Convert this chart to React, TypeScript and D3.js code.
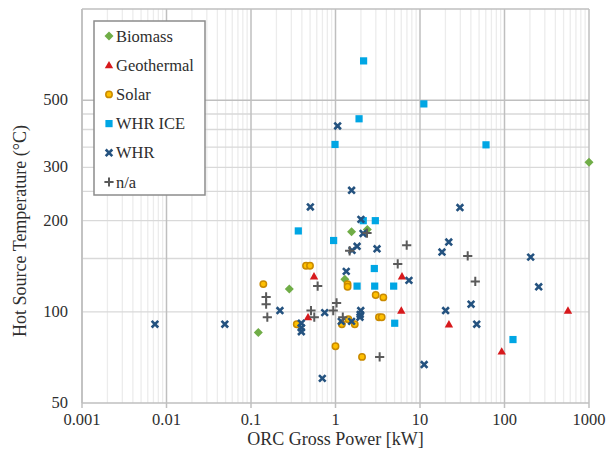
import React from 'react'
import * as d3 from 'd3'

// [ORC gross power kW, hot source temperature °C]
const biomass: [number, number][] = [
    [1000, 312], [0.122, 85.5], [0.284, 119], [1.29, 128], [1.55, 184], [2.38, 187]
]
const geothermal: [number, number][] = [
    [0.557, 131], [0.473, 96], [6.12, 131], [6.01, 101], [22, 91], [92.7, 74], [564, 101]
]
const solar: [number, number][] = [
    [0.448, 142], [0.499, 142], [0.14, 123.5], [1.39, 123.5], [1.39, 121], [2.99, 113.6],
    [3.68, 111.6], [0.348, 91], [1.19, 91], [1.42, 94.5], [1.69, 91], [3.27, 96], [3.52, 96],
    [1.0, 77], [2.06, 71]
]
const whrIce: [number, number][] = [
    [2.15, 674], [11.1, 486], [1.9, 434], [0.987, 357], [60.4, 356], [0.363, 185],
    [0.95, 172], [2.96, 200], [2.13, 200], [2.88, 139], [1.8, 121.6], [2.91, 121.6],
    [4.88, 121.6], [5.02, 91.7], [126, 81]
]
const whr: [number, number][] = [
    [0.0073, 91], [0.049, 91], [1.06, 411], [1.55, 252], [0.504, 222], [2.0, 202],
    [2.12, 181.5], [1.8, 164.6], [1.57, 159.6], [3.1, 161.5], [1.34, 136], [7.4, 127],
    [0.22, 101], [0.394, 91.7], [0.394, 88.6], [0.394, 86], [0.745, 99.4], [1.17, 93],
    [1.55, 93], [1.99, 101], [1.96, 98], [1.95, 96], [0.698, 60.3], [11.2, 67],
    [29.7, 221], [21.9, 170], [18.2, 157.5], [204, 151.6], [254, 121], [40.2, 106],
    [20.1, 101], [46.9, 91]
]
const na: [number, number][] = [
    [6.96, 166], [36.7, 153], [45.1, 126], [5.45, 144], [2.36, 182], [1.47, 159],
    [0.615, 121.6], [0.151, 112], [0.151, 106], [0.156, 96], [0.513, 101], [0.561, 96],
    [1.03, 107], [0.94, 101], [1.22, 96], [3.33, 71]
]

const xTicks = [0.001, 0.01, 0.1, 1, 10, 100, 1000]
const xTickLabels = ['0.001', '0.01', '0.1', '1', '10', '100', '1000']
const yTickLabels = [50, 100, 200, 300, 500]
const yMajor = [500]
const yMinor = [100, 150, 200, 250, 300, 350, 400, 450]

const legendNames = ['Biomass', 'Geothermal', 'Solar', 'WHR ICE', 'WHR', 'n/a']

const W = 607, H = 452
const margin = { top: 9, right: 18, bottom: 49, left: 82 }
const font = '"Liberation Serif", "Times New Roman", serif'
const textColor = '#2e2e2e'

const x = d3.scaleLog().domain([0.001, 1000]).range([margin.left, W - margin.right])
const y = d3.scaleLog().domain([50, 1000]).range([H - margin.bottom, margin.top])

const minorX: number[] = []
for (let e = -3; e < 3; e++) {
    for (let k = 2; k < 10; k++) minorX.push(k * Math.pow(10, e))
}

function Marker({ kind, cx, cy }: { kind: number; cx: number; cy: number }) {
    switch (kind) {
        case 0: {
            const r = 4.5
            return <path d={`M${cx},${cy - r}L${cx + r},${cy}L${cx},${cy + r}L${cx - r},${cy}Z`} fill="#70ad47" />
        }
        case 1: {
            const s = 4.2
            return <path d={`M${cx},${cy - s}L${cx + s},${cy + s * 0.75}L${cx - s},${cy + s * 0.75}Z`} fill="#d7191c" />
        }
        case 2:
            return <circle cx={cx} cy={cy} r={3.2} fill="#ffc000" stroke="#c98a00" strokeWidth={1.5} />
        case 3:
            return <rect x={cx - 3.6} y={cy - 3.6} width={7.2} height={7.2} fill="#00a6e4" />
        case 4: {
            const s = 3.3
            return <path d={`M${cx - s},${cy - s}L${cx + s},${cy + s}M${cx - s},${cy + s}L${cx + s},${cy - s}`} stroke="#24527f" strokeWidth={2.6} />
        }
        default: {
            const s = 4.6
            return <path d={`M${cx - s},${cy}L${cx + s},${cy}M${cx},${cy - s}L${cx},${cy + s}`} stroke="#5a5a5a" strokeWidth={2} />
        }
    }
}

export default function App() {
    const series = [biomass, geothermal, solar, whrIce, whr, na]
    const x0 = margin.left, x1 = W - margin.right
    const y0 = margin.top, y1 = H - margin.bottom

    return (
        <svg width={W} height={H} style={{ position: 'absolute', left: 0, top: 0, background: '#fff' }} fontFamily={font}>
            {/* minor vertical gridlines */}
            {minorX.map((v, i) => (
                <line key={'mx' + i} x1={x(v)} x2={x(v)} y1={y0} y2={y1} stroke="#ececec" strokeWidth={1.3} />
            ))}
            {/* horizontal gridlines */}
            {yMinor.map((v, i) => (
                <line key={'my' + i} x1={x0} x2={x1} y1={y(v)} y2={y(v)} stroke="#d9d9d9" strokeWidth={1.3} />
            ))}
            {yMajor.concat([1000]).map((v, i) => (
                <line key={'My' + i} x1={x0} x2={x1} y1={y(v)} y2={y(v)} stroke="#bfbfbf" strokeWidth={1.5} />
            ))}
            {/* major vertical gridlines */}
            {xTicks.map((v, i) => (
                <line key={'Mx' + i} x1={x(v)} x2={x(v)} y1={y0} y2={y1} stroke="#bfbfbf" strokeWidth={1.5} />
            ))}
            {/* axes */}
            <line x1={x0} x2={x1} y1={y1} y2={y1} stroke="#bfbfbf" strokeWidth={1.5} />
            <line x1={x0} x2={x0} y1={y0} y2={y1} stroke="#bfbfbf" strokeWidth={1.5} />
            {xTicks.map((v, i) => (
                <line key={'tx' + i} x1={x(v)} x2={x(v)} y1={y1} y2={y1 + 5} stroke="#bfbfbf" strokeWidth={1.5} />
            ))}
            {xTicks.map((v, i) => (
                <text key={'lx' + i} x={x(v)} y={y1 + 22} textAnchor="middle" fontSize={16.5} fill={textColor}>{xTickLabels[i]}</text>
            ))}
            {yTickLabels.map((v, i) => (
                <text key={'ly' + i} x={x0 - 14} y={y(v) + 5} textAnchor="end" fontSize={16.5} fill={textColor}>{v}</text>
            ))}
            <text x={(x0 + x1) / 2} y={H - 7} textAnchor="middle" fontSize={18} fill={textColor}>ORC Gross Power [kW]</text>
            <text transform={`translate(26, ${(y0 + y1) / 2 + 25}) rotate(-90)`} textAnchor="middle" fontSize={18} fill={textColor}>Hot Source Temperature (°C)</text>

            {/* points */}
            {series.map((pts, si) => (
                <g key={'s' + si}>
                    {pts.map((p, i) => (
                        <Marker key={i} kind={si} cx={x(p[0])} cy={y(p[1])} />
                    ))}
                </g>
            ))}

            {/* legend */}
            <rect x={94} y={21} width={111} height={174} fill="#fff" stroke="#8c8c8c" strokeWidth={1.5} />
            {legendNames.map((n, i) => (
                <g key={'lg' + i}>
                    <Marker kind={i} cx={109} cy={36 + i * 29.2} />
                    <text x={116} y={36 + i * 29.2 + 5.5} fontSize={16.5} fill={textColor}>{n}</text>
                </g>
            ))}
        </svg>
    )
}
